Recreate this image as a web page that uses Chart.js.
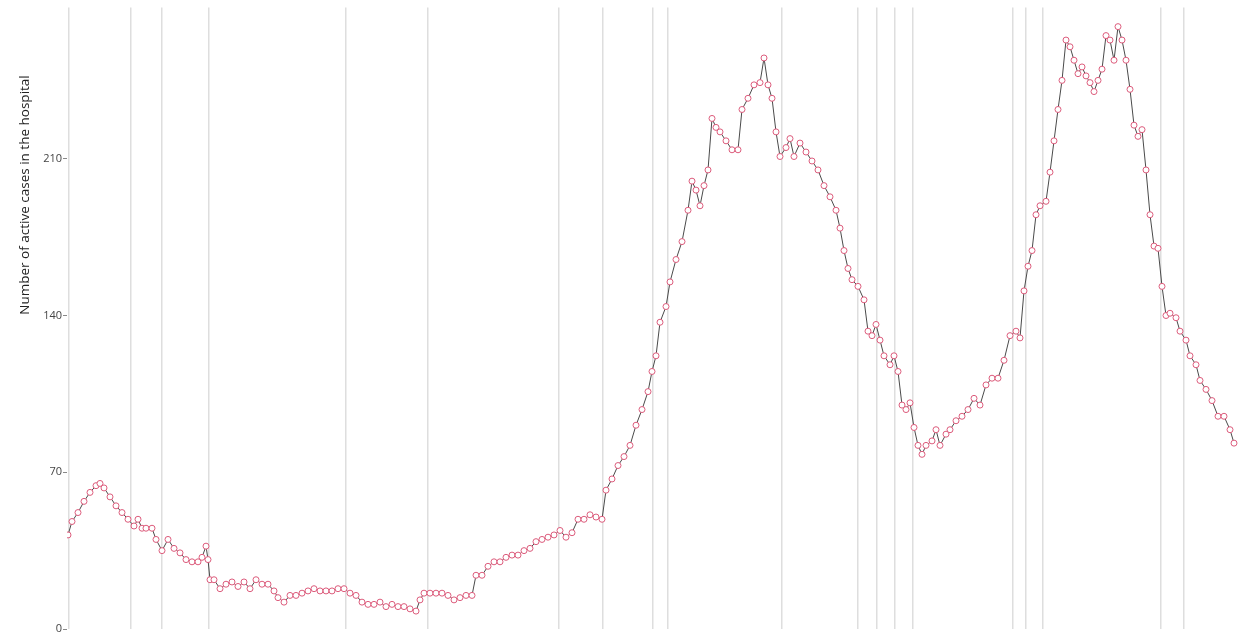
<!DOCTYPE html>
<html>
<head>
<meta charset="utf-8">
<script src="https://cdn.jsdelivr.net/npm/chart.js@4/dist/chart.umd.min.js"></script>
<style>
  html, body { margin: 0; padding: 0; background: #fff; overflow: hidden; }
  #wrap { width: 1250px; height: 680px; }
</style>
</head>
<body>
<div id="wrap"><canvas id="casesChart" width="1250" height="680"></canvas></div>
<script>
// ----- Data -----
const days = [
  0, 2, 5, 8, 11, 14, 16, 18, 21, 24, 27, 30, 33, 35, 37, 39, 42, 44, 47, 50,
  53, 56, 59, 62, 65, 67, 69, 70, 71, 73, 76, 79, 82, 85, 88, 91, 94, 97, 100, 103,
  105, 108, 111, 114, 117, 120, 123, 126, 129, 132, 135, 138, 141, 144, 147, 150, 153, 156, 159, 162,
  165, 168, 171, 174, 176, 178, 181, 184, 187, 190, 193, 196, 199, 202, 204, 207, 210, 213, 216, 219,
  222, 225, 228, 231, 234, 237, 240, 243, 246, 249, 252, 255, 258, 261, 264, 267, 269, 272, 275, 278,
  281, 284, 287, 290, 292, 294, 296, 299, 301, 304, 307, 310, 312, 314, 316, 318, 320, 322, 324, 326,
  329, 332, 335, 337, 340, 343, 346, 348, 350, 352, 354, 356, 359, 361, 363, 366, 369, 372, 375, 378,
  381, 384, 386, 388, 390, 392, 395, 398, 400, 402, 404, 406, 408, 411, 413, 415, 417, 419, 421, 423,
  425, 427, 429, 432, 434, 436, 439, 441, 444, 447, 450, 453, 456, 459, 462, 465, 468, 471, 474, 476,
  478, 480, 482, 484, 486, 489, 491, 493, 495, 497, 499, 501, 503, 505, 507, 509, 511, 513, 515, 517,
  519, 521, 523, 525, 527, 529, 531, 533, 535, 537, 539, 541, 543, 545, 547, 549, 551, 554, 556, 559,
  561, 564, 566, 569, 572, 575, 578, 581, 583
];
const activeCases = [
  42, 48, 52, 57, 61, 64, 65, 63, 59, 55, 52, 49, 46, 49, 45, 45, 45, 40, 35, 40,
  36, 34, 31, 30, 30, 32, 37, 31, 22, 22, 18, 20, 21, 19, 21, 18, 22, 20, 20, 17,
  14, 12, 15, 15, 16, 17, 18, 17, 17, 17, 18, 18, 16, 15, 12, 11, 11, 12, 10, 11,
  10, 10, 9, 8, 13, 16, 16, 16, 16, 15, 13, 14, 15, 15, 24, 24, 28, 30, 30, 32,
  33, 33, 35, 36, 39, 40, 41, 42, 44, 41, 43, 49, 49, 51, 50, 49, 62, 67, 73, 77,
  82, 91, 98, 106, 115, 122, 137, 144, 155, 165, 173, 187, 200, 196, 189, 198, 205, 228, 224, 222,
  218, 214, 214, 232, 237, 243, 244, 255, 243, 237, 222, 211, 215, 219, 211, 217, 213, 209, 205, 198,
  193, 187, 179, 169, 161, 156, 153, 147, 133, 131, 136, 129, 122, 118, 122, 115, 100, 98, 101, 90,
  82, 78, 82, 84, 89, 82, 87, 89, 93, 95, 98, 103, 100, 109, 112, 112, 120, 131, 133, 130,
  151, 162, 169, 185, 189, 191, 204, 218, 232, 245, 263, 260, 254, 248, 251, 247, 244, 240, 245, 250,
  265, 263, 254, 269, 263, 254, 241, 225, 220, 223, 205, 185, 171, 170, 153, 140, 141, 139, 133, 129,
  122, 118, 111, 107, 102, 95, 95, 89, 83
];
// days with a vertical marker line
const eventDays = [0.5, 31.5, 47, 70.5, 139, 180, 245.5, 267.5, 292.5, 300, 357, 395, 404.5, 413.5, 422.5, 472.5, 479, 487.5, 546.5, 558];
const yTicks = [0, 70, 140, 210];

const points = days.map((d, i) => ({ x: d, y: activeCases[i] }));

// ----- Y axis title (drawn off-centre like the original) -----
const yTitle = {
  id: 'yTitle',
  afterDraw(chart) {
    const c = chart.ctx;
    c.save();
    c.translate(25, 195);
    c.rotate(-Math.PI / 2);
    c.font = '13.5px "Open Sans", sans-serif';
    c.fillStyle = '#222';
    c.textAlign = 'center';
    c.textBaseline = 'middle';
    c.fillText('Number of active cases in the hospital', 0, 0);
    c.restore();
  }
};

// ----- Chart -----
const ctx = document.getElementById('casesChart').getContext('2d');
const casesChart = new Chart(ctx, {
  type: 'line',
  data: {
    datasets: [{
      label: 'Active cases',
      data: points,
      borderColor: '#4a4a4a',
      borderWidth: 1,
      pointRadius: 3,
      pointBorderWidth: 1,
      pointBackgroundColor: '#fff',
      pointBorderColor: '#dc5c7c',
      tension: 0
    }]
  },
  options: {
    responsive: false,
    animation: false,
    devicePixelRatio: 1,
    layout: { padding: { top: 1, right: 10, bottom: 51, left: 0 } },
    plugins: {
      legend: { display: false },
      tooltip: { enabled: false }
    },
    scales: {
      x: {
        type: 'linear',
        min: -0.5,
        max: 586,
        afterBuildTicks: scale => { scale.ticks = eventDays.map(v => ({ value: v })); },
        ticks: { display: false },
        grid: { color: '#dedede', lineWidth: 1.5, drawTicks: false },
        border: { display: false }
      },
      y: {
        min: 0,
        max: 277.5,
        afterBuildTicks: scale => { scale.ticks = yTicks.map(v => ({ value: v })); },
        afterFit: scale => { scale.width = 67; },
        ticks: {
          color: '#444',
          padding: 1,
          font: { family: '"Open Sans", sans-serif', size: 11 }
        },
        grid: { drawOnChartArea: false, tickLength: 4, color: '#888' },
        border: { display: false }
      }
    }
  },
  plugins: [yTitle]
});
</script>
</body>
</html>
